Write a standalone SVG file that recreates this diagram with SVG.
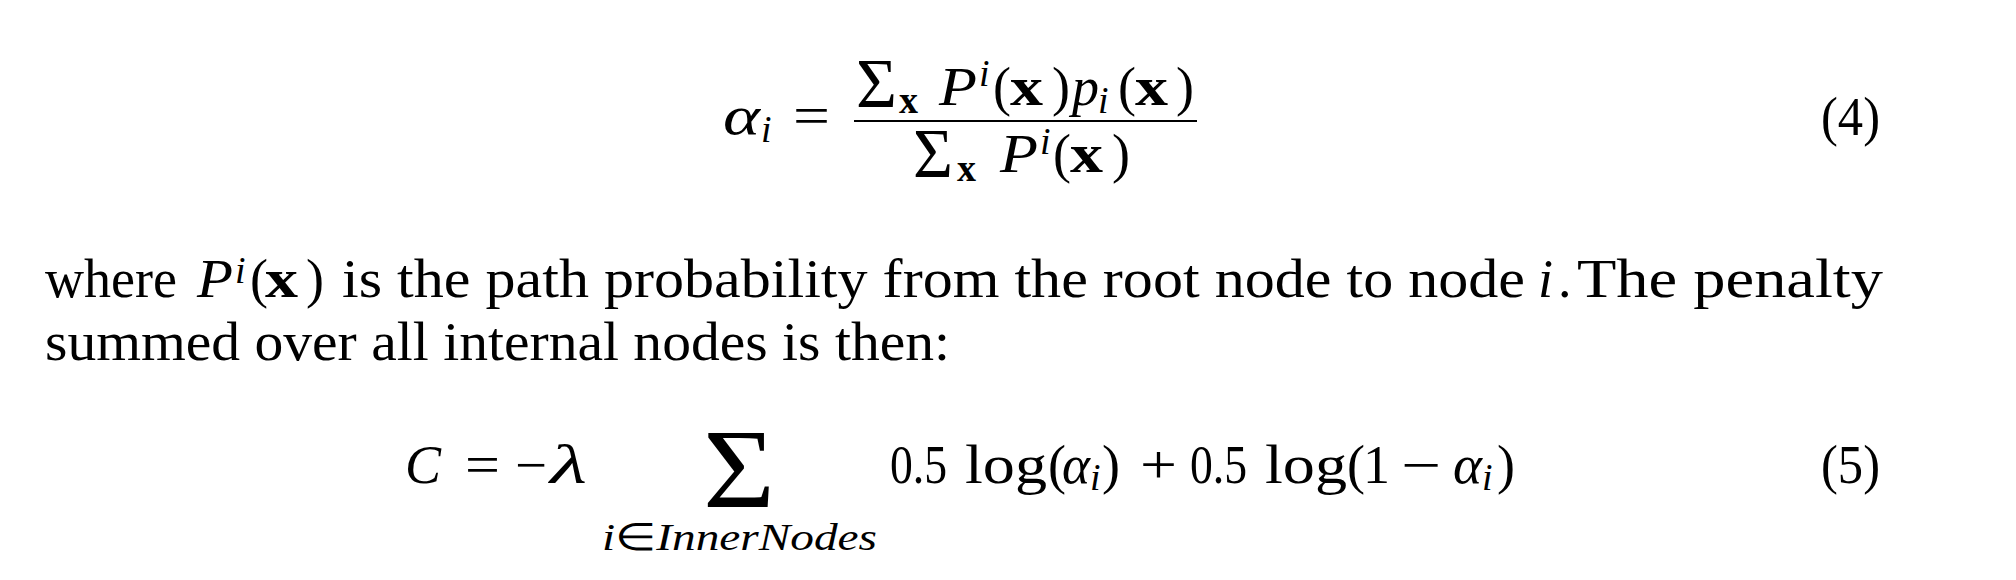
<svg xmlns="http://www.w3.org/2000/svg" width="2016" height="580" viewBox="0 0 2016 580">
<style>
text{font-family:"Liberation Serif","Times New Roman",serif;fill:#000;font-size:54px}
.it{font-style:italic}
.b{font-weight:bold}
.s{font-size:38px}
.sig{font-size:70px}
.big{font-size:113px}
</style>
<rect x="0" y="0" width="2016" height="580" fill="#fff"/>
<g id="eq4">
<text class="it" x="723" y="134" textLength="37" lengthAdjust="spacingAndGlyphs">α</text>
<text class="it s" x="761" y="142">i</text>
<text x="793" y="134" textLength="37" lengthAdjust="spacingAndGlyphs">=</text>
<line x1="854" y1="121" x2="1197" y2="121" stroke="#000" stroke-width="2"/>
<text class="sig" x="856" y="107" textLength="41" lengthAdjust="spacingAndGlyphs">Σ</text>
<text class="b s" x="899" y="113">x</text>
<text class="it" x="939" y="105" textLength="38" lengthAdjust="spacingAndGlyphs">P</text>
<text class="it s" x="979" y="86">i</text>
<text x="993" y="105">(</text>
<text class="b" x="1010" y="105" textLength="33" lengthAdjust="spacingAndGlyphs">x</text>
<text x="1052" y="105">)</text>
<text class="it" x="1072" y="105" textLength="27" lengthAdjust="spacingAndGlyphs">p</text>
<text class="it s" x="1098" y="113">i</text>
<text x="1118" y="105">(</text>
<text class="b" x="1135" y="105" textLength="33" lengthAdjust="spacingAndGlyphs">x</text>
<text x="1176" y="105">)</text>
<text class="sig" x="913" y="177" textLength="40" lengthAdjust="spacingAndGlyphs">Σ</text>
<text class="b s" x="957" y="181">x</text>
<text class="it" x="1000" y="172" textLength="38" lengthAdjust="spacingAndGlyphs">P</text>
<text class="it s" x="1040" y="154">i</text>
<text x="1053" y="172">(</text>
<text class="b" x="1070" y="172" textLength="33" lengthAdjust="spacingAndGlyphs">x</text>
<text x="1112" y="172">)</text>
<text x="1821" y="135" textLength="59" lengthAdjust="spacingAndGlyphs">(4)</text>
</g>
<g id="paragraph">
<text x="45" y="297" textLength="132" lengthAdjust="spacingAndGlyphs">where</text>
<text class="it" x="197" y="297" textLength="36" lengthAdjust="spacingAndGlyphs">P</text>
<text class="it s" x="235" y="283">i</text>
<text x="250" y="297">(</text>
<text class="b" x="265" y="297" textLength="33" lengthAdjust="spacingAndGlyphs">x</text>
<text x="306" y="297">)</text>
<text x="342" y="297" textLength="1183" lengthAdjust="spacingAndGlyphs">is the path probability from the root node to node</text>
<text class="it" x="1538" y="297">i</text>
<text x="1558" y="297">.</text>
<text x="1577" y="297" textLength="306" lengthAdjust="spacingAndGlyphs">The penalty</text>
<text x="45" y="360" textLength="905" lengthAdjust="spacingAndGlyphs">summed over all internal nodes is then:</text>
</g>
<g id="eq5">
<text class="it" x="405" y="483" textLength="36" lengthAdjust="spacingAndGlyphs">C</text>
<text x="465" y="483" textLength="35" lengthAdjust="spacingAndGlyphs">=</text>
<text x="515" y="483" textLength="32" lengthAdjust="spacingAndGlyphs">−</text>
<text class="it" x="550" y="483" textLength="37" lengthAdjust="spacingAndGlyphs">λ</text>
<text class="big" x="703" y="507" textLength="72" lengthAdjust="spacingAndGlyphs">Σ</text>
<text class="s" x="602" y="550" textLength="275" lengthAdjust="spacingAndGlyphs"><tspan class="it">i</tspan>∈<tspan class="it">InnerNodes</tspan></text>
<text x="890" y="483" textLength="57" lengthAdjust="spacingAndGlyphs">0.5</text>
<text x="965" y="483" textLength="82" lengthAdjust="spacingAndGlyphs">log</text>
<text x="1048" y="483">(</text>
<text class="it" x="1062" y="483" textLength="28" lengthAdjust="spacingAndGlyphs">α</text>
<text class="it s" x="1090" y="490">i</text>
<text x="1102" y="483">)</text>
<text x="1140" y="483" textLength="37" lengthAdjust="spacingAndGlyphs">+</text>
<text x="1190" y="483" textLength="57" lengthAdjust="spacingAndGlyphs">0.5</text>
<text x="1265" y="483" textLength="82" lengthAdjust="spacingAndGlyphs">log</text>
<text x="1347" y="483">(</text>
<text x="1363" y="483">1</text>
<text x="1401" y="483" textLength="40" lengthAdjust="spacingAndGlyphs">−</text>
<text class="it" x="1453" y="483" textLength="29" lengthAdjust="spacingAndGlyphs">α</text>
<text class="it s" x="1482" y="490">i</text>
<text x="1497" y="483">)</text>
<text x="1821" y="483" textLength="59" lengthAdjust="spacingAndGlyphs">(5)</text>
</g>
</svg>
